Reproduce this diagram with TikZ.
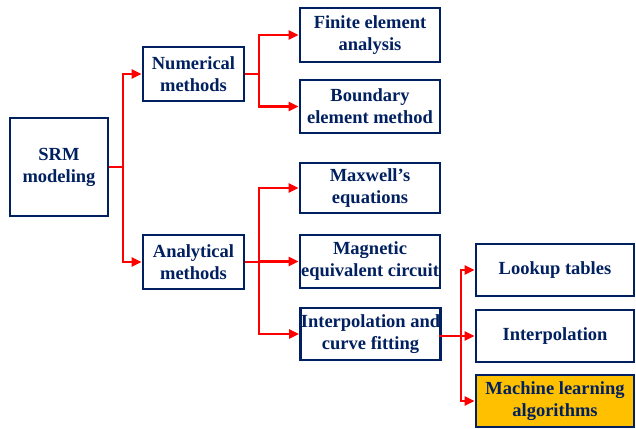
\documentclass[tikz,border=0pt]{standalone}
\usepackage{fontspec}
\setmainfont{Liberation Serif}
\usetikzlibrary{arrows.meta}
\definecolor{navy}{HTML}{002060}
\definecolor{linkred}{HTML}{FF0000}
\definecolor{hilite}{HTML}{FFC000}
\begin{document}
\begin{tikzpicture}[x=1pt,y=-1pt,
  box/.style={draw=navy,line width=2.8pt,fill=white,text=navy,
    font=\fontsize{18.5}{22}\selectfont\bfseries,align=center,
    inner sep=0pt,minimum width=#1},
  box/.default=140pt,
  link/.style={draw=linkred,line width=2.6pt},
  arr/.style={link,-{Triangle[length=10pt,width=9pt]}}]
\useasboundingbox (0,0) rectangle (636,428);
% root and first level
\node[box=98pt,minimum height=98pt] (srm) at (59,167) {SRM\\modeling};
\node[box=101pt,minimum height=54pt] (num) at (193.5,74) {Numerical\\methods};
\node[box=101pt,minimum height=54pt] (ana) at (193.5,262) {Analytical\\methods};
% numerical methods
\node[box,minimum height=54pt] (fea) at (370,35) {Finite element\\analysis};
\node[box,minimum height=53pt] (bem) at (370,106.5) {Boundary\\element method};
% analytical methods
\node[box,minimum height=50pt] (max) at (370,188) {Maxwell’s\\equations};
\node[box,minimum height=53pt] (mec) at (370,261.5) {Magnetic\\equivalent circuit};
\node[box,minimum height=52pt] (icf) at (370.5,334) {Interpolation and\\curve fitting};
% interpolation and curve fitting
\node[box=158pt,minimum height=52pt] (lut) at (555,270) {Lookup tables};
\node[box=158pt,minimum height=52pt] (itp) at (555,336) {Interpolation};
\node[box=158pt,minimum height=52pt,fill=hilite] (mla) at (555,401) {Machine learning\\algorithms};
% connectors
\draw[link] (srm.east) -- (123,167);
\draw[arr] (123,167) |- (num.west);
\draw[arr] (123,167) |- (ana.west);
\draw[link] (num.east) -- (259,74);
\draw[arr] (259,74) |- (fea.west);
\draw[arr] (259,74) |- (bem.west);
\draw[link] (ana.east) -- (259,262);
\draw[arr] (259,262) |- (max.west);
\draw[arr] (259,262) |- (mec.west);
\draw[arr] (259,262) |- (icf.west);
\draw[arr] ([xshift=-3pt]icf.east |- itp.west) -- (itp.west);
\draw[arr] (461,336) |- (lut.west);
\draw[arr] (461,336) |- (mla.west);
\end{tikzpicture}
\end{document}
